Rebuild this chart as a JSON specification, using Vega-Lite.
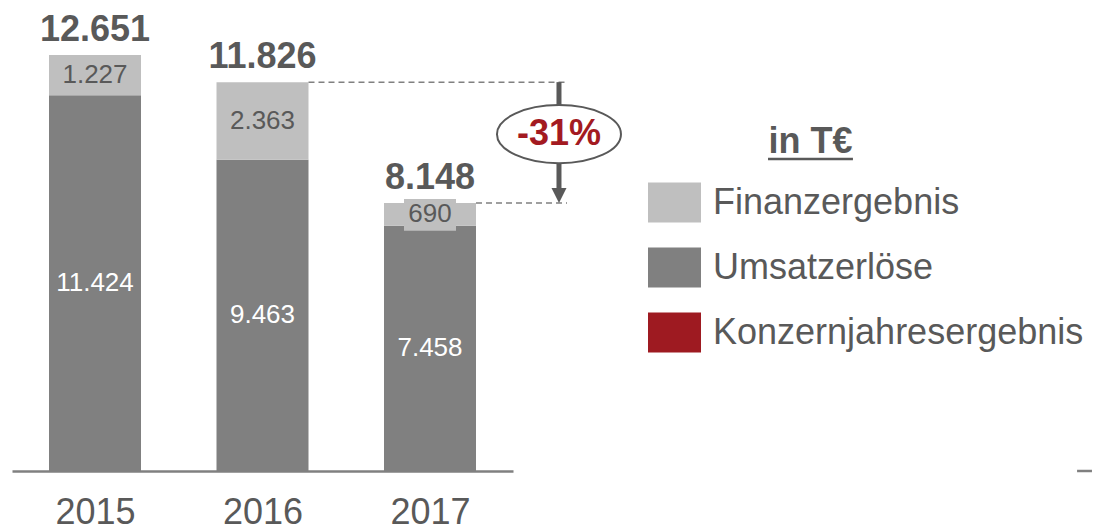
{
  "$schema": "https://vega.github.io/schema/vega-lite/v6.json",
  "width": 501,
  "height": 471,
  "autosize": {"type": "none"},
  "padding": {"left": 12, "top": 0, "right": 582, "bottom": 60},
  "background": "white",
  "config": {
    "view": {"stroke": null},
    "font": "Liberation Sans",
    "locale": {"number": {"decimal": ",", "thousands": ".", "grouping": [3], "currency": ["", " €"]}}
  },
  "datasets": {
    "segments": [
      {"year": 2015, "series": "Umsatzerlöse", "value": 11424},
      {"year": 2015, "series": "Finanzergebnis", "value": 1227},
      {"year": 2016, "series": "Umsatzerlöse", "value": 9463},
      {"year": 2016, "series": "Finanzergebnis", "value": 2363},
      {"year": 2017, "series": "Umsatzerlöse", "value": 7458},
      {"year": 2017, "series": "Finanzergebnis", "value": 690}
    ],
    "totals": [
      {"year": 2015, "total": 12651},
      {"year": 2016, "total": 11826},
      {"year": 2017, "total": 8148}
    ],
    "change": [
      {"from": 11826, "to": 8148, "label": "-31%"}
    ],
    "note": [
      {"label": "in T€"}
    ]
  },
  "layer": [
    {
      "data": {"name": "segments"},
      "mark": {"type": "bar", "width": 92},
      "encoding": {
        "x": {
          "field": "year", "type": "quantitative",
          "scale": {"domain": [2014.5045, 2017.4955], "nice": false, "zero": false, "padding": 0},
          "axis": {
            "values": [2015, 2016, 2017], "format": "d", "ticks": false, "grid": false,
            "labelFontSize": 36, "labelColor": "#595959", "labelPadding": 24,
            "labelFlush": false, "labelFont": "Liberation Sans",
            "domainColor": "#808080", "domainWidth": 2.5, "title": null
          }
        },
        "y": {
          "field": "value", "type": "quantitative", "stack": "zero",
          "scale": {"domain": [0, 14324], "nice": false}, "axis": null
        },
        "color": {
          "field": "series", "type": "nominal",
          "scale": {
            "domain": ["Finanzergebnis", "Umsatzerlöse", "Konzernjahresergebnis"],
            "range": ["#bfbfbf", "#808080", "#9e1a21"]
          },
          "legend": {
            "orient": "none", "legendX": 636, "legendY": 176, "direction": "vertical",
            "title": null, "padding": 0,
            "labelFontSize": 36, "labelColor": "#595959", "labelFont": "Liberation Sans",
            "labelLimit": 600, "labelOffset": 12,
            "symbolType": "M-1,-0.755H1V0.755H-1Z", "symbolSize": 2809,
            "symbolStrokeWidth": 0, "symbolOpacity": 1, "rowPadding": 18
          }
        },
        "order": {"field": "series", "sort": "descending"}
      }
    },
    {
      "data": {"name": "segments"},
      "transform": [
        {"stack": "value", "groupby": ["year"], "sort": [{"field": "series", "order": "descending"}], "as": ["v0", "v1"]},
        {"filter": "datum.year === 2017 && datum.series === 'Finanzergebnis'"}
      ],
      "mark": {"type": "bar", "width": 52, "color": "#bfbfbf", "yOffset": -4, "y2Offset": 5},
      "encoding": {
        "x": {"field": "year", "type": "quantitative", "title": null},
        "y": {"field": "v1", "type": "quantitative"},
        "y2": {"field": "v0"}
      }
    },
    {
      "data": {"name": "segments"},
      "transform": [
        {"stack": "value", "groupby": ["year"], "sort": [{"field": "series", "order": "descending"}], "as": ["v0", "v1"]},
        {"fold": ["v0", "v1"], "as": ["k", "pos"]},
        {"aggregate": [{"op": "mean", "field": "pos", "as": "mid"}], "groupby": ["year", "series", "value"]}
      ],
      "mark": {"type": "text", "fontSize": 26, "baseline": "middle", "align": "center"},
      "encoding": {
        "x": {"field": "year", "type": "quantitative", "title": null},
        "y": {"field": "mid", "type": "quantitative"},
        "text": {"field": "value", "type": "quantitative", "format": ",d"},
        "color": {"condition": {"test": "datum.series === 'Umsatzerlöse'", "value": "#ffffff"}, "value": "#595959"}
      }
    },
    {
      "data": {"name": "totals"},
      "mark": {"type": "text", "fontSize": 36, "fontWeight": "bold", "baseline": "alphabetic", "align": "center", "dy": -14, "color": "#595959"},
      "encoding": {
        "x": {"field": "year", "type": "quantitative", "title": null},
        "y": {"field": "total", "type": "quantitative"},
        "text": {"field": "total", "type": "quantitative", "format": ",d"}
      }
    },
    {
      "data": {"name": "totals"},
      "transform": [{"filter": "datum.year >= 2016"}],
      "mark": {"type": "rule", "strokeDash": [6, 4], "strokeWidth": 1.5, "color": "#808080", "xOffset": 46},
      "encoding": {
        "x": {"field": "year", "type": "quantitative", "title": null},
        "x2": {"datum": 2017.818},
        "y": {"field": "total", "type": "quantitative"}
      }
    },
    {
      "data": {"name": "change"},
      "mark": {"type": "rule", "strokeWidth": 5, "color": "#595959", "y2Offset": -12},
      "encoding": {
        "x": {"datum": 2017.77, "type": "quantitative"},
        "y": {"field": "from", "type": "quantitative"},
        "y2": {"field": "to"}
      }
    },
    {
      "data": {"name": "change"},
      "mark": {"type": "point", "shape": "M-1,-1L1,-1L0,1Z", "size": 225, "filled": true, "color": "#595959", "opacity": 1, "strokeWidth": 0, "yOffset": -7.5},
      "encoding": {
        "x": {"datum": 2017.77, "type": "quantitative"},
        "y": {"field": "to", "type": "quantitative"}
      }
    },
    {
      "data": {"name": "change"},
      "mark": {"type": "point", "shape": "M-1,0A1,0.468 0 1,0 1,0A1,0.468 0 1,0 -1,0Z", "size": 15376, "filled": true, "fill": "#ffffff", "stroke": "#595959", "strokeWidth": 2, "opacity": 1, "yOffset": 52},
      "encoding": {
        "x": {"datum": 2017.77, "type": "quantitative"},
        "y": {"field": "from", "type": "quantitative"}
      }
    },
    {
      "data": {"name": "change"},
      "mark": {"type": "text", "fontSize": 36, "fontWeight": "bold", "color": "#a31a21", "baseline": "middle", "align": "center", "yOffset": 52},
      "encoding": {
        "x": {"datum": 2017.77, "type": "quantitative"},
        "y": {"field": "from", "type": "quantitative"},
        "text": {"field": "label"}
      }
    },
    {
      "data": {"name": "note"},
      "mark": {"type": "text", "fontSize": 36, "fontWeight": "bold", "color": "#595959", "baseline": "alphabetic", "align": "center"},
      "encoding": {
        "x": {"datum": 2019.2716, "type": "quantitative"},
        "y": {"datum": 9671, "type": "quantitative"},
        "text": {"field": "label"}
      }
    },
    {
      "data": {"name": "note"},
      "mark": {"type": "rule", "strokeWidth": 2.5, "color": "#595959"},
      "encoding": {
        "x": {"datum": 2019.018, "type": "quantitative"},
        "x2": {"datum": 2019.525},
        "y": {"datum": 9488, "type": "quantitative"}
      }
    },
    {
      "data": {"name": "note"},
      "mark": {"type": "rule", "strokeWidth": 2.5, "color": "#808080"},
      "encoding": {
        "x": {"datum": 2020.863, "type": "quantitative"},
        "x2": {"datum": 2020.952},
        "y": {"datum": 0, "type": "quantitative"}
      }
    }
  ]
}
